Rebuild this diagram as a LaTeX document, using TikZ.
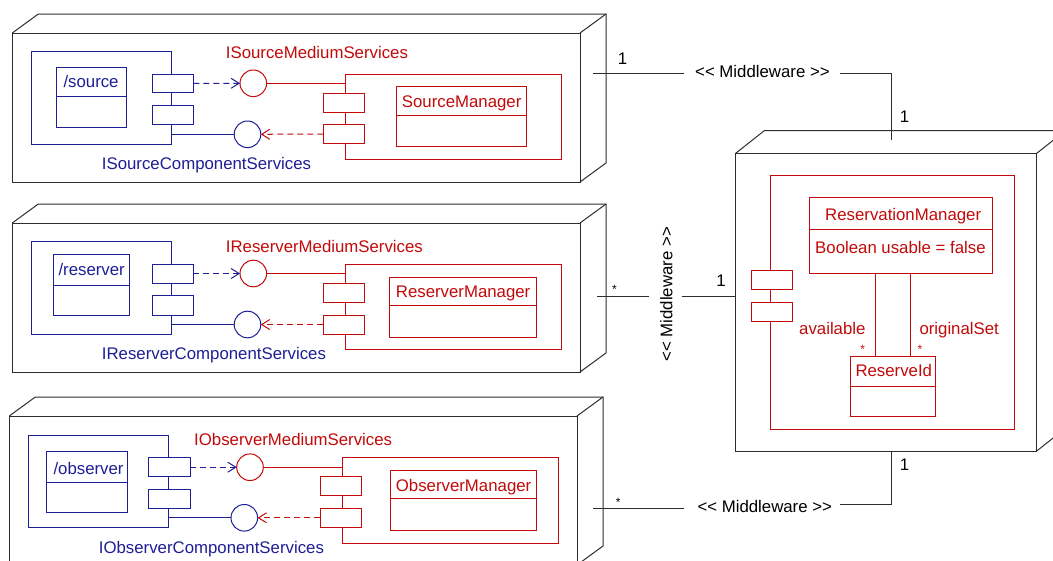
\documentclass[tikz,border=0pt]{standalone}
\usepackage{fontspec}
\setmainfont{Liberation Sans}
\usetikzlibrary{arrows.meta,calc}

\definecolor{ublue}{RGB}{30,30,150}
\definecolor{ured}{RGB}{195,10,10}
\definecolor{ink}{RGB}{45,45,45}

\tikzset{
  every node/.style={font=\fontsize{16.8}{20}\selectfont},
  hw/.style={draw=ink, line width=1pt, fill=white, inner sep=0pt, outer sep=0pt},
  hwedge/.style={draw=ink, line width=1pt},
  bbox/.style={draw=ublue, line width=1pt, fill=white, inner sep=0pt, outer sep=0pt},
  rbox/.style={draw=ured, line width=1pt, fill=white, inner sep=0pt, outer sep=0pt},
  bface/.style={circle, draw=ublue, line width=1pt, fill=white, minimum size=26.6pt, inner sep=0pt, outer sep=0pt},
  rface/.style={circle, draw=ured, line width=1pt, fill=white, minimum size=26.6pt, inner sep=0pt, outer sep=0pt},
  btxt/.style={text=ublue, inner sep=0pt, anchor=base west},
  rtxt/.style={text=ured, inner sep=0pt, anchor=base west},
  ktxt/.style={text=black, inner sep=0pt, anchor=base west},
  mult/.style={inner sep=0pt, anchor=base},
  star/.style={inner sep=0pt, anchor=base, font=\fontsize{12}{14}\selectfont},
  bline/.style={draw=ublue, line width=1pt},
  rline/.style={draw=ured, line width=1pt},
  bdep/.style={draw=ublue, line width=1pt, dash pattern=on 6pt off 4pt, -{Straight Barb[length=8pt,width=10pt]}},
  rdep/.style={draw=ured, line width=1pt, dash pattern=on 6pt off 4pt, -{Straight Barb[length=8pt,width=10pt]}},
  wire/.style={draw=ink, line width=1pt},
}

% stereotype label, with the angle brackets kept as separate characters
\newcommand\mwlabel{<\kern0pt< Middleware >\kern0pt>}
% rectangle node from its top-left and bottom-right corners
\newcommand\boxat[6]{\node[#1, anchor=north west, minimum width={(#5)-(#3)}, minimum height={(#6)-(#4)}] (#2) at (#3,#4) {};}
% class box with a divider between name and attribute compartments
\newcommand\classat[7]{\boxat{#1}{#2}{#3}{#4}{#5}{#6}\draw[#1, fill=none] (#3,#7) -- (#5,#7);}
% 3D deployment node: front face plus top and side faces
\newcommand\hwnode[7]{%
  \boxat{hw}{#1}{#2}{#3}{#4}{#5}
  \draw[hwedge] (#1.north west) -- ++(#6,-#7) -- ([shift={(#6,-#7)}]#1.north east)
     -- ([shift={(#6,-#7)}]#1.south east) -- (#1.south east);
  \draw[hwedge] (#1.north east) -- ++(#6,-#7);
}

\begin{document}
\begin{tikzpicture}[x=1pt,y=-1pt]
\useasboundingbox (0,0) rectangle (1053,560);
\clip (0,0) rectangle (1053,560);

% ---------------- source node ----------------
\hwnode{srcnode}{12.3}{33}{580}{182}{26}{19}
\boxat{bbox}{srccomp}{31.7}{51.7}{171.3}{144}
\classat{bbox}{srccls}{56.7}{67.3}{126.7}{127.7}{96}
\boxat{bbox}{srcpa}{152}{74}{193.3}{92.7}
\boxat{bbox}{srcpb}{152}{105.3}{193.3}{124}
\boxat{rbox}{smcomp}{345}{74}{561.7}{159.3}
\classat{rbox}{smcls}{396.7}{86.7}{526.7}{146.7}{115.3}
\boxat{rbox}{smpa}{323.3}{93.3}{364.3}{112}
\boxat{rbox}{smpb}{323.3}{124.7}{364.3}{143.3}
\node[rface] (srcmed) at (253.3,83.3) {};
\node[bface] (srccmp) at (247.5,134.3) {};
\node[rtxt] (srcmedl) at (225.7,58.7) {ISourceMediumServices};
\node[btxt] (srcclsl) at (63.3,87.3) {/source};
\node[btxt] (srccmpl) at (101.7,169.3) {ISourceComponentServices};
\node[rtxt] (smclsl) at (401.7,107.3) {SourceManager};
\draw[bdep] (srcpa.east) -- (srcmed.west);
\draw[rline] (srcmed.east) -- (srcmed.east -| smcomp.west);
\draw[bline] (srccmp.west -| srccomp.east) -- (srccmp.west);
\draw[rdep] (smpb.west) -- (srccmp.east);

% ---------------- reserver node ----------------
\hwnode{resnode}{12.3}{223}{580}{372}{26}{19}
\boxat{bbox}{rescomp}{31.7}{241.7}{171.3}{334}
\classat{bbox}{rescls}{53.3}{254.3}{129}{315.3}{285}
\boxat{bbox}{respa}{152}{264}{193.3}{283}
\boxat{bbox}{respb}{152}{295.7}{193.3}{315}
\boxat{rbox}{rmcomp}{345.7}{264.7}{561.7}{349.3}
\classat{rbox}{rmcls}{389.3}{277}{536}{337}{305.3}
\boxat{rbox}{rmpa}{323.3}{283.3}{364.3}{302}
\boxat{rbox}{rmpb}{323.3}{315}{364.3}{334}
\node[rface] (resmed) at (253.3,273.5) {};
\node[bface] (rescmp) at (247.5,324.5) {};
\node[rtxt] (resmedl) at (225.7,252.3) {IReserverMediumServices};
\node[btxt] (resclsl) at (58.3,275) {/reserver};
\node[btxt] (rescmpl) at (101.7,359.3) {IReserverComponentServices};
\node[rtxt] (rmclsl) at (395.7,297.3) {ReserverManager};
\draw[bdep] (respa.east) -- (resmed.west);
\draw[rline] (resmed.east) -- (resmed.east -| rmcomp.west);
\draw[bline] (rescmp.west -| rescomp.east) -- (rescmp.west);
\draw[rdep] (rmpb.west) -- (rescmp.east);

% ---------------- observer node ----------------
\hwnode{obsnode}{9.3}{416}{577}{565}{26}{19}
\boxat{bbox}{obscomp}{28.3}{435.7}{168.3}{527}
\classat{bbox}{obscls}{46.3}{451.7}{127.3}{512.3}{482.7}
\boxat{bbox}{obspa}{148.7}{457.7}{190.3}{476.7}
\boxat{bbox}{obspb}{148.7}{489.3}{190.3}{508.3}
\boxat{rbox}{omcomp}{342.3}{457.7}{558.3}{543.3}
\classat{rbox}{omcls}{390}{470}{536}{530.7}{498.7}
\boxat{rbox}{ompa}{320.3}{476.7}{361.7}{495.7}
\boxat{rbox}{ompb}{320.3}{508.3}{361.7}{527.3}
\node[rface] (obsmed) at (250,467.2) {};
\node[bface] (obscmp) at (244.3,517.8) {};
\node[rtxt] (obsmedl) at (194,445.7) {IObserverMediumServices};
\node[btxt] (obsclsl) at (53.3,474.3) {/observer};
\node[btxt] (obscmpl) at (98.7,553.3) {IObserverComponentServices};
\node[rtxt] (omclsl) at (395.7,491.3) {ObserverManager};
\draw[bdep] (obspa.east) -- (obsmed.west);
\draw[rline] (obsmed.east) -- (obsmed.east -| omcomp.west);
\draw[bline] (obscmp.west -| obscomp.east) -- (obscmp.west);
\draw[rdep] (ompb.west) -- (obscmp.east);

% ---------------- medium node ----------------
\hwnode{mednode}{735.7}{153.3}{1036.7}{451}{28.7}{22.7}
\boxat{rbox}{medcomp}{770.3}{175.3}{1014.7}{429.3}
\boxat{rbox}{medpa}{751.3}{270.7}{792.7}{289.3}
\boxat{rbox}{medpb}{751.3}{302.3}{792.7}{321}
\classat{rbox}{rsvcls}{809.3}{197.7}{992.7}{273.3}{229}
\classat{rbox}{ridcls}{850}{356}{935.3}{416.3}{386}
\node[rtxt] (rsvname) at (825,220) {ReservationManager};
\node[rtxt] (rsvattr) at (815,253) {Boolean usable = false};
\node[rtxt] (ridname) at (855.3,376.3) {ReserveId};
\draw[rline] ([xshift=25pt]ridcls.north west) -- ([xshift=25pt]ridcls.north west |- rsvcls.south);
\draw[rline] ([xshift=60pt]ridcls.north west) -- ([xshift=60pt]ridcls.north west |- rsvcls.south);
\node[rtxt] (avail) at (799,334.3) {available};
\node[rtxt] (origset) at (919.3,334.3) {originalSet};
\node[star, text=ured] (availm) at (862.7,353.7) {*};
\node[star, text=ured] (origm) at (920,353.7) {*};

% ---------------- middleware links ----------------
% source -- medium
\coordinate (srcend) at (593.3,73.3);
\coordinate (srcgapl) at (684.3,73.3);
\coordinate (srcgapr) at (840,73.3);
\coordinate (srcbend) at (891,73.3);
\coordinate (medtop) at (891,140);
\draw[wire] (srcend) -- (srcgapl);
\draw[wire] (srcgapr) -- (srcbend) -- (medtop);
\node[ktxt] (mwtop) at (695,77.3) {\mwlabel};
\node[mult] (srcmult) at (622.5,64) {1};
\node[mult] (medmulta) at (904.5,122) {1};

% reserver -- medium
\coordinate (resend) at (596.7,296);
\coordinate (resgapl) at (649.3,296);
\coordinate (resgapr) at (681.7,296);
\draw[wire] (resend) -- (resgapl);
\draw[wire] (resgapr) -- (resgapr -| mednode.west);
\node[ktxt, rotate=90] (mwmid) at (672.3,361.7) {\mwlabel};
\node[star] (resmult) at (614.5,293.7) {*};
\node[mult] (medmultb) at (721,286.3) {1};

% observer -- medium
\coordinate (obsend) at (593.3,508.3);
\coordinate (obsgapl) at (684.3,508.3);
\coordinate (obsgapr) at (840,504.3);
\coordinate (obsbend) at (891.7,504.3);
\draw[wire] (obsend) -- (obsgapl);
\draw[wire] (obsgapr) -- (obsbend) -- (obsbend |- mednode.south);
\node[ktxt] (mwbot) at (697.3,512.7) {\mwlabel};
\node[star] (obsmult) at (618.3,506.3) {*};
\node[mult] (medmultc) at (904.5,470.3) {1};
\end{tikzpicture}
\end{document}
